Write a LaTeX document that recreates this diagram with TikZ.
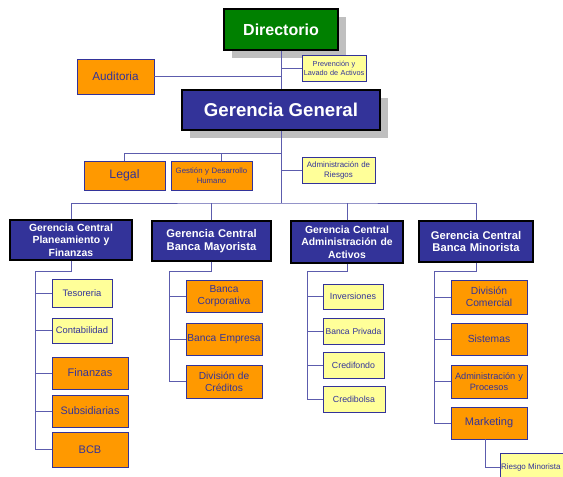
\documentclass[tikz,border=0pt]{standalone}
\usepackage{fontspec}
\setmainfont{Liberation Sans}
\usepackage{xcolor}
\usetikzlibrary{shadows}

\definecolor{dirgreen}{HTML}{008000}
\definecolor{navy}{HTML}{333399}
\definecolor{orangefill}{HTML}{FF9900}
\definecolor{notefill}{HTML}{FFFF99}
\definecolor{linkblue}{HTML}{5C5CAD}

\tikzset{
  link/.style={draw=linkblue, line width=0.9pt},
  boss/.style={draw=black, line width=1.3pt, text=white, align=center, inner sep=0pt,
    drop shadow={shadow xshift=8pt, shadow yshift=-8pt, fill=black!25, opacity=1}},
  central/.style={draw=black, line width=1.3pt, fill=navy, text=white, align=center, inner sep=1pt},
  unitbox/.style={draw=navy, line width=0.8pt, fill=orangefill, text=navy, align=center, inner sep=1pt},
  notebox/.style={draw=navy, line width=0.8pt, fill=notefill, text=navy, align=center, inner sep=1pt}
}

\begin{document}
\begin{tikzpicture}[x=1pt,y=-1pt]
  % Page frame
  \path[use as bounding box, fill=white] (0,0) rectangle (563,477);

  % Top of the chart
  \node[boss, fill=dirgreen, minimum width=114pt, minimum height=41pt,
        font=\fontsize{16}{18}\selectfont\bfseries] (dir) at (281,29.5) {Directorio};
  \node[notebox, inner sep=0pt, text width=64pt, minimum height=26pt,
        font=\fontsize{7.3}{9}\selectfont] (prev) at (334,68) {Prevención y\\Lavado de Activos};
  \node[unitbox, text width=75pt, minimum height=35pt,
        font=\fontsize{11.7}{14}\selectfont] (aud) at (115.5,76.5) {Auditoria};
  \node[boss, fill=navy, minimum width=198pt, minimum height=40pt,
        font=\fontsize{18.6}{22}\selectfont\bfseries] (gg) at (281,110) {Gerencia General};

  % Staff units under the general manager
  \node[unitbox, text width=79pt, minimum height=29pt,
        font=\fontsize{12.3}{14}\selectfont] (legal) at (124.5,175.5) {Legal};
  \node[unitbox, text width=79pt, minimum height=29pt,
        font=\fontsize{7.8}{10}\selectfont] (gest) at (211.5,175.5) {Gestión y Desarrollo\\Humano};
  \node[notebox, text width=71pt, minimum height=26pt,
        font=\fontsize{7.9}{10}\selectfont] (riesg) at (338.5,170) {Administración de\\Riesgos};

  % Central managements
  \node[central, text width=120pt, minimum height=40pt,
        font=\fontsize{10.4}{12.5}\selectfont\bfseries] (gc1) at (71,240) {Gerencia Central\\Planeamiento y\\Finanzas};
  \node[central, text width=117pt, minimum height=40pt,
        font=\fontsize{11.2}{12.7}\selectfont\bfseries] (gc2) at (211.5,241) {Gerencia Central\\Banca Mayorista};
  \node[central, text width=110pt, minimum height=42pt,
        font=\fontsize{10.4}{12.5}\selectfont\bfseries] (gc3) at (347,242) {Gerencia Central\\Administración de\\Activos};
  \node[central, text width=112pt, minimum height=41pt,
        font=\fontsize{11.2}{12.7}\selectfont\bfseries] (gc4) at (476,241.5) {Gerencia Central\\Banca Minorista};

  % Planeamiento y Finanzas
  \node[notebox, text width=58pt, minimum height=28pt, font=\fontsize{9.4}{11}\selectfont] (teso) at (82,293) {Tesoreria};
  \node[notebox, text width=58pt, minimum height=25pt, font=\fontsize{9.4}{11}\selectfont] (conta) at (82,330.5) {Contabilidad};
  \node[unitbox, text width=74pt, minimum height=32pt, font=\fontsize{11}{13}\selectfont] (fin) at (90,373) {Finanzas};
  \node[unitbox, text width=74pt, minimum height=32pt, font=\fontsize{10.8}{13}\selectfont] (subs) at (90,411) {Subsidiarias};
  \node[unitbox, text width=74pt, minimum height=35pt, font=\fontsize{11}{13}\selectfont] (bcb) at (90,449.5) {BCB};

  % Banca Mayorista
  \node[unitbox, text width=74pt, minimum height=32pt, font=\fontsize{10.2}{12}\selectfont] (bcorp) at (224,296) {Banca\\Corporativa};
  \node[unitbox, text width=74pt, minimum height=32pt, font=\fontsize{10.2}{12}\selectfont] (bemp) at (224,339) {Banca Empresa};
  \node[unitbox, text width=74pt, minimum height=33pt, font=\fontsize{10.2}{12}\selectfont] (dcred) at (224,381.5) {División de\\Créditos};

  % Administracion de Activos
  \node[notebox, text width=58pt, minimum height=25pt, font=\fontsize{9}{11}\selectfont] (inv) at (353,296.5) {Inversiones};
  \node[notebox, text width=59pt, minimum height=26pt, font=\fontsize{8.5}{10}\selectfont] (bpriv) at (353.5,331) {Banca Privada};
  \node[notebox, text width=59pt, minimum height=26pt, font=\fontsize{8.8}{10}\selectfont] (credf) at (353.5,365) {Credifondo};
  \node[notebox, text width=60pt, minimum height=26pt, font=\fontsize{8.8}{10}\selectfont] (credb) at (354,399) {Credibolsa};

  % Banca Minorista
  \node[unitbox, text width=74pt, minimum height=34pt, font=\fontsize{10.3}{12}\selectfont] (dcom) at (489,297) {División\\Comercial};
  \node[unitbox, text width=74pt, minimum height=32pt, font=\fontsize{10.3}{12}\selectfont] (sist) at (489,339) {Sistemas};
  \node[unitbox, text width=74pt, minimum height=33pt, font=\fontsize{9.2}{11}\selectfont] (admp) at (489,381.5) {Administración y\\Procesos};
  \node[unitbox, text width=74pt, minimum height=32pt, font=\fontsize{11}{13}\selectfont] (mkt) at (489,423) {Marketing};
  \node[notebox, align=flush left, text width=64pt, minimum height=28pt, font=\fontsize{8}{10}\selectfont] (rmin) at (533,467) {Riesgo Minorista};

  % Links at the top
  \draw[link] (dir.south) -- (gg.north);
  \draw[link] (aud.east) -- (aud.east -| dir.south);
  \draw[link] (prev.west) -- (prev.west -| dir.south);

  % Links under the general manager
  \coordinate (b1) at (281,153);
  \coordinate (b2) at (281,203);
  \draw[link] (gg.south) -- (b2);
  \draw[link] (legal.north) |- (b1);
  \draw[link] ([xshift=10pt]gest.north) -- ([xshift=10pt]gest.north |- b1);
  \draw[link] (riesg.west) -- (riesg.west -| b1);
  \draw[link] (gc1.north) |- (b2) -| (gc4.north);
  \draw[link] (gc2.north) -- (gc2.north |- b2);
  \draw[link] (gc3.north) -- (gc3.north |- b2);

  % Links to the units
  \coordinate (k1) at (35,271);
  \coordinate (k2) at (169,271);
  \coordinate (k3) at (307,271);
  \coordinate (k4) at (434,271);
  \draw[link] (gc1.south) |- (k1) |- (bcb.west);
  \draw[link] (gc2.south) |- (k2) |- (dcred.west);
  \draw[link] (gc3.south) |- (k3) |- (credb.west);
  \draw[link] (gc4.south) |- (k4) |- (mkt.west);
  \foreach \u in {teso,conta,fin,subs}
    \draw[link] (\u.west) -- (\u.west -| k1);
  \foreach \u in {bcorp,bemp}
    \draw[link] (\u.west) -- (\u.west -| k2);
  \foreach \u in {inv,bpriv,credf}
    \draw[link] (\u.west) -- (\u.west -| k3);
  \foreach \u in {dcom,sist,admp}
    \draw[link] (\u.west) -- (\u.west -| k4);
  \draw[link] ([xshift=-4pt]mkt.south) |- (rmin.west);
\end{tikzpicture}
\end{document}
